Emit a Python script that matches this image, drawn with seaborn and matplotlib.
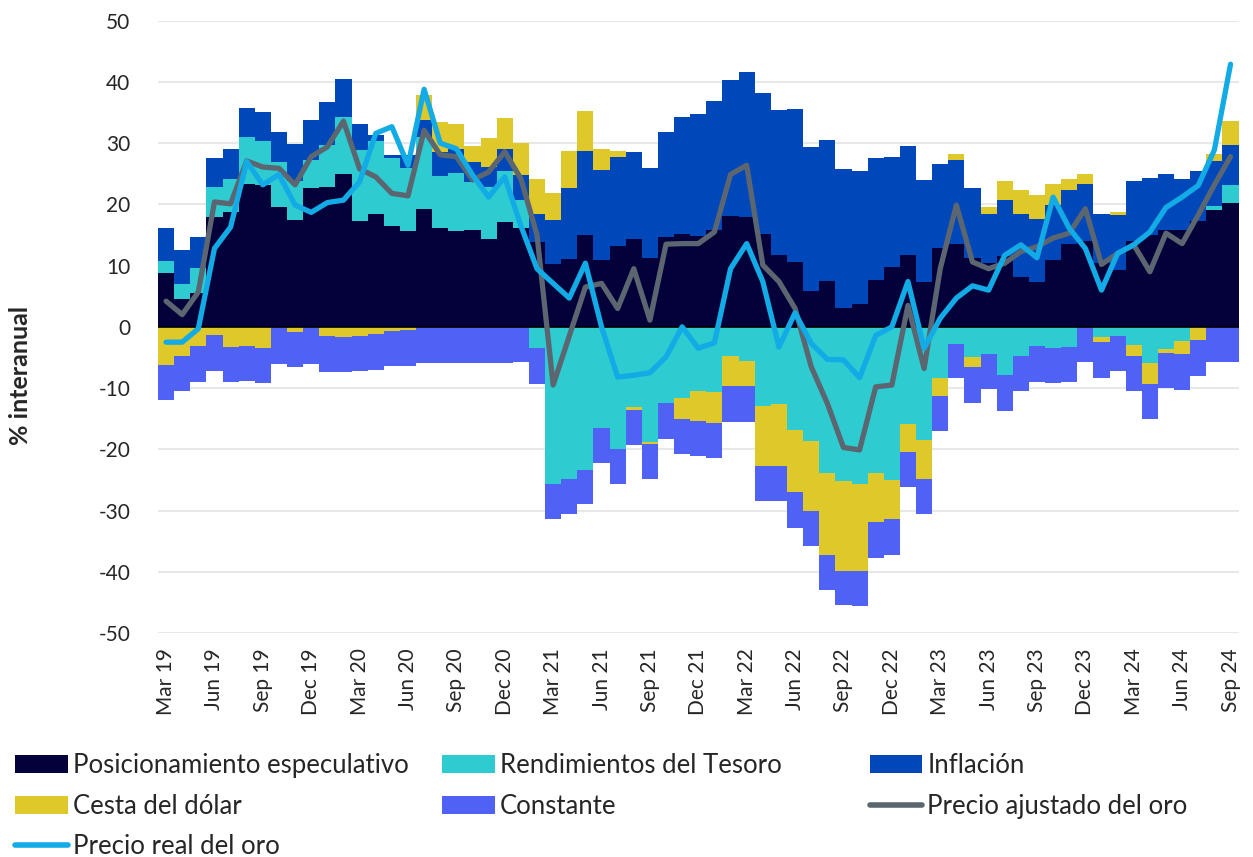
import numpy as np
import pandas as pd
import matplotlib.pyplot as plt
import seaborn as sns
from matplotlib.patches import Patch
from matplotlib.lines import Line2D

sns.set_theme(style="white")
plt.rcParams['font.family'] = ['Lato', 'DejaVu Sans']
plt.rcParams['axes.unicode_minus'] = False

# --- datos (% interanual, mensual Mar 19 - Sep 24) ---
months = pd.date_range('2019-03-01', '2024-09-01', freq='MS')

posicionamiento = [8.8, 4.5, 5.6, 18.0, 18.8, 23.3, 23.2, 19.5, 17.4, 22.6, 22.8, 24.9,
                   17.3, 18.4, 16.5, 15.7, 19.2, 16.1, 15.7, 15.8, 14.3, 17.1, 16.2, 13.9,
                   10.2, 11.1, 15.0, 10.9, 13.2, 14.3, 11.2, 14.6, 15.1, 14.8, 15.8, 18.1,
                   18.0, 15.2, 11.7, 10.6, 5.9, 7.5, 3.0, 3.8, 7.7,
                   9.8, 11.8, 7.4, 12.9, 13.6, 11.2, 10.4, 11.6, 8.2, 7.4, 11.0, 13.6,
                   14.0, 10.4, 9.3, 14.1, 15.0, 15.8, 15.8, 17.3, 19.1, 20.3]
tesoro = [2.0, 2.5, 4.0, 4.8, 5.3, 7.7, 7.2, 7.5, 6.5, 4.7, 6.9, 9.3,
          11.6, 12.0, 11.1, 10.3, 11.8, 8.6, 9.5, 7.9, 8.6, 8.4, 4.5, -3.5,
          -25.7, -24.8, -23.3, -16.5, -19.9, -13.1, -18.8, -12.5, -11.6, -10.5, -10.7, -4.8,
          -5.6, -12.9, -12.6, -16.9, -18.7, -23.9, -25.2, -25.7, -23.9,
          -25.0, -15.9, -18.4, -8.3, -2.8, -4.9, -4.5, -7.9, -4.7, -3.2, -3.5, -3.3,
          0.0, -1.7, -1.5, -3.0, -5.9, -3.6, -2.3, 0.0, 0.7, 2.8]
inflacion = [5.3, 5.5, 5.0, 4.7, 5.0, 4.8, 4.7, 4.8, 5.9, 6.5, 7.0, 6.3,
             4.2, 0.9, 0.5, 2.1, 2.8, 3.9, 3.8, 3.3, 3.2, 3.5, 4.1, 4.6,
             7.2, 11.6, 13.7, 14.7, 14.6, 14.3, 14.8, 17.3, 19.1, 19.9, 21.1, 22.2,
             23.7, 23.0, 23.8, 25.0, 23.5, 23.0, 22.8, 21.6, 19.8,
             17.9, 17.7, 16.6, 13.7, 13.6, 11.4, 8.0, 9.1, 10.3, 10.2, 8.9, 8.7,
             9.3, 8.0, 9.0, 9.7, 9.3, 9.1, 8.3, 8.2, 7.3, 6.6]
dolar = [-6.3, -4.7, -3.1, -1.4, -3.3, -3.1, -3.4, 0.0, -0.8, 0.0, -1.5, -1.6,
         -1.5, -1.2, -0.7, -0.5, 4.1, 4.8, 4.2, 2.5, 4.8, 5.1, 5.3, 5.7,
         4.5, 6.0, 6.6, 3.4, 1.0, -0.4, -0.4, 0.0, -3.5, -4.9, -5.0, -4.9,
         -4.1, -9.8, -10.1, -10.1, -11.4, -13.3, -14.6, -14.2, -8.0,
         -6.4, -4.5, -6.5, -3.0, 1.0, -1.6, 1.2, 3.2, 3.9, 3.9, 3.5, 1.8,
         1.6, -0.8, 0.4, -1.7, -3.5, -0.6, -2.2, -2.2, 1.1, 3.9]
constante = [-5.7, -5.8, -5.9, -5.8, -5.7, -5.8, -5.8, -6.0, -5.8, -6.0, -5.8, -5.8,
             -5.7, -5.9, -5.7, -5.9, -5.9, -5.9, -5.9, -5.9, -5.9, -5.9, -5.7, -5.9,
             -5.7, -5.8, -5.7, -5.7, -5.8, -5.8, -5.7, -5.8, -5.7, -5.7, -5.8, -5.8,
             -5.8, -5.8, -5.8, -5.8, -5.7, -5.8, -5.7, -5.7, -5.8,
             -5.8, -5.8, -5.7, -5.7, -5.6, -5.9, -5.7, -5.8, -5.8, -5.8, -5.7, -5.7,
             -5.8, -5.8, -5.7, -5.8, -5.7, -5.8, -5.8, -5.9, -5.8, -5.8]
precio_ajustado = [4.2, 2.0, 5.7, 20.4, 20.1, 27.1, 26.1, 25.9, 23.2, 27.8, 29.4, 33.6,
                   25.8, 24.5, 21.8, 21.4, 32.1, 28.1, 27.8, 24.0, 25.3, 28.6, 24.2, 15.0,
                   -9.5, -1.5, 6.5, 7.1, 3.0, 9.5, 1.1, 13.5, 13.6, 13.6, 15.5, 24.9,
                   26.4, 10.1, 7.4, 3.0, -6.5, -12.5, -19.7, -20.1, -9.8,
                   -9.5, 3.5, -6.8, 9.5, 19.9, 10.6, 9.5, 10.4, 12.3, 13.1, 14.5, 15.3,
                   19.3, 10.2, 12.0, 13.4, 9.0, 15.3, 13.6, 18.3, 23.2, 27.8]
precio_real = [-2.5, -2.5, -0.3, 12.8, 16.3, 27.0, 23.2, 24.9, 19.9, 18.7, 20.3, 20.7,
               23.7, 31.6, 32.7, 26.4, 38.8, 30.0, 29.1, 24.8, 21.2, 24.5, 16.5, 9.5,
               7.1, 4.7, 10.4, 0.0, -8.2, -7.9, -7.5, -4.9, 0.0, -3.5, -2.6, 9.5,
               13.6, 7.4, -3.3, 2.3, -2.7, -5.3, -5.4, -8.3, -1.4,
               0.0, 7.4, -3.5, 1.4, 4.7, 6.7, 6.0, 11.7, 13.4, 11.3, 21.2, 16.1,
               12.8, 6.0, 12.0, 13.4, 15.5, 19.5, 21.2, 23.1, 28.9, 42.9]

componentes = [
    ('Posicionamiento especulativo', posicionamiento, '#03003A'),
    ('Rendimientos del Tesoro', tesoro, '#2ECBD1'),
    ('Inflación', inflacion, '#0047BA'),
    ('Cesta del dólar', dolar, '#DEC82A'),
    ('Constante', constante, '#5062F4'),
]
color_ajustado = '#5B6670'
color_real = '#12ABE6'

x = np.arange(len(months))
fig = plt.figure(figsize=(12.53, 8.57), dpi=100)
ax = fig.add_axes([0.1261, 0.2614, 0.8624, 0.7144])

# barras apiladas (positivos hacia arriba, negativos hacia abajo)
pos = np.zeros(len(x))
neg = np.zeros(len(x))
for nombre, vals, col in componentes:
    v = np.array(vals)
    base = np.where(v >= 0, pos, neg)
    ax.bar(x, v, bottom=base, width=1.0, color=col, linewidth=0, zorder=2)
    pos = pos + np.clip(v, 0, None)
    neg = neg + np.clip(v, None, 0)

ax.axhline(0, color='black', lw=1.2, zorder=3)

lineas = pd.DataFrame({'x': x, 'ajustado': precio_ajustado, 'real': precio_real})
sns.lineplot(data=lineas, x='x', y='ajustado', ax=ax, color=color_ajustado, lw=3.8, zorder=4)
sns.lineplot(data=lineas, x='x', y='real', ax=ax, color=color_real, lw=3.8, zorder=5)

ax.set_xlim(-0.5, len(x) - 0.5)
ax.set_ylim(-50, 50)
ax.set_yticks(range(-50, 51, 10))
ax.yaxis.grid(True, color='#E8E8E8', lw=1.5, zorder=0)
ax.xaxis.grid(False)
for s in ax.spines.values():
    s.set_visible(False)

ticks = x[::3]
ax.set_xticks(ticks)
ax.set_xticklabels([months[i].strftime('%b %y') for i in ticks], rotation=90, fontsize=15)
ax.tick_params(axis='x', length=0, pad=11)
ax.tick_params(axis='y', length=0, pad=20, labelsize=15)
ax.set_xlabel('')
ax.set_ylabel('% interanual', fontsize=18, fontweight='bold')
ax.yaxis.set_label_coords(-0.117, 0.42)

# leyenda en tres columnas
def parche(c):
    return Patch(facecolor=c, edgecolor='none')

def linea(c):
    return Line2D([0], [0], color=c, lw=4)

columnas = [
    ([parche(componentes[0][2]), parche(componentes[3][2]), linea(color_real)],
     [componentes[0][0], componentes[3][0], 'Precio real del oro'], 0.012),
    ([parche(componentes[1][2]), parche(componentes[4][2])],
     [componentes[1][0], componentes[4][0]], 0.353),
    ([parche(componentes[2][2]), linea(color_ajustado)],
     [componentes[2][0], 'Precio ajustado del oro'], 0.694),
]
for hs, ls, xpos in columnas:
    fig.legend(hs, ls, loc='upper left', bbox_to_anchor=(xpos, 0.121), frameon=False,
               fontsize=18.5, handlelength=2.05, handleheight=0.7, handletextpad=0.2,
               labelspacing=0.6, borderaxespad=0, borderpad=0)

fig.savefig('out.png', dpi=100)
